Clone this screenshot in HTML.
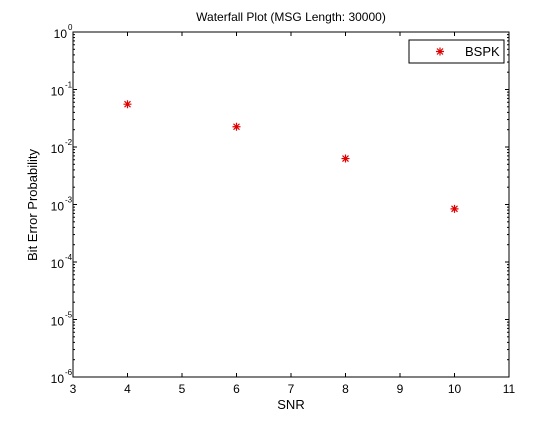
<!DOCTYPE html>
<html><head><meta charset="utf-8"><style>
body{margin:0;background:#fff}
text{font-family:"Liberation Sans",sans-serif;fill:#000}
</style></head><body>
<svg width="560" height="420">
<rect width="560" height="420" fill="#fff"/>
<g id="g"></g>
</svg>
<script>
const snr=[4,6,8,10];
const ber=[0.0555,0.0225,0.0063,0.00084];
const xTicks=[3,4,5,6,7,8,9,10,11];
const yExps=[0,-1,-2,-3,-4,-5,-6];
const L=73,R=509,T=32,B=377;
const sx=v=>L+(v-3)/8*(R-L);
const sy=v=>T+(-Math.log10(v))/6*(B-T);
const g=document.getElementById('g');const NS='http://www.w3.org/2000/svg';
function mk(t,a,p){const e=document.createElementNS(NS,t);for(const k in a)e.setAttribute(k,a[k]);(p||g).appendChild(e);return e;}
const ax=mk('rect',{x:L,y:T,width:R-L,height:B-T,fill:'#fff',stroke:'#000','stroke-width':1});


xTicks.forEach(v=>{const x=sx(v);
mk('line',{x1:x,y1:B,x2:x,y2:B-4,stroke:'#000'});mk('line',{x1:x,y1:T,x2:x,y2:T+4,stroke:'#000'});
const t=mk('text',{x:x,y:B+16,'text-anchor':'middle','font-size':12});t.textContent=v;

});
yExps.forEach(e=>{const y=sy(Math.pow(10,e));
mk('line',{x1:L,y1:y,x2:L+4,y2:y,stroke:'#000'});mk('line',{x1:R,y1:y,x2:R-4,y2:y,stroke:'#000'});
if(e>-6)for(let m=2;m<10;m++){const yy=sy(m*Math.pow(10,e-1));mk('line',{x1:L,y1:yy,x2:L+2,y2:yy,stroke:'#000'});mk('line',{x1:R,y1:yy,x2:R-2,y2:yy,stroke:'#000'});}
const off=e===0?5:8;
const t=mk('text',{x:L-off-1,y:y+6,'text-anchor':'end','font-size':12});t.textContent='10';


const s=mk('text',{x:L-off,y:y-2,'font-size':8});s.textContent=e;});
snr.forEach((v,i)=>{const x=sx(v),y=sy(ber[i]);
const p=mk('path',{d:`M${x-4},${y}h8M${x},${y-4}v8M${x-3},${y-3}l6,6M${x-3},${y+3}l6,-6`,stroke:'#e00000','stroke-width':1.2});

});
const lg=mk('rect',{x:409,y:40,width:95,height:23,fill:'#fff',stroke:'#000'});


mk('path',{d:'M436,51.5h8M440,47.5v8M437,48.5l6,6M437,54.5l6,-6',stroke:'#e00000','stroke-width':1.2});
const lt=mk('text',{x:465,y:56,'font-size':13});lt.textContent='BSPK';


const ti=mk('text',{x:291,y:21,'text-anchor':'middle','font-size':12});ti.textContent='Waterfall Plot (MSG Length: 30000)';


const xl=mk('text',{x:291,y:409,'text-anchor':'middle','font-size':13});xl.textContent='SNR';


const yl=mk('text',{x:0,y:0,'text-anchor':'middle','font-size':13,transform:'translate(37,205) rotate(-90)'});yl.textContent='Bit Error Probability';


</script>
</body></html>
